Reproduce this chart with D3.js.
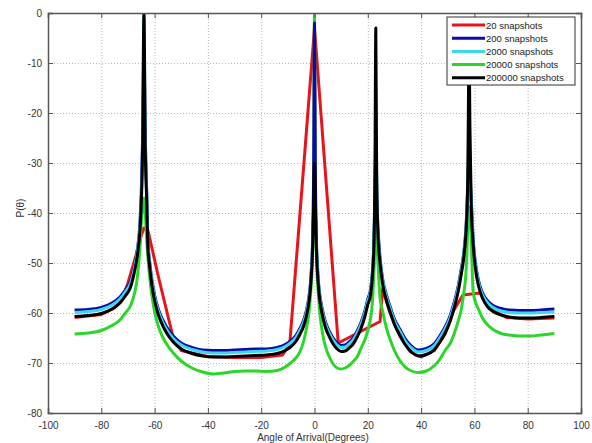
<!DOCTYPE html>
<html><head><meta charset="utf-8">
<script src="https://cdnjs.cloudflare.com/ajax/libs/d3/7.8.5/d3.min.js"></script>
<style>
html,body{margin:0;padding:0;background:#fff;}
svg{display:block;font-family:"Liberation Sans",Arial,Helvetica,sans-serif;}
</style></head>
<body><svg id="c" width="592" height="443"></svg>
<script>
// ---------- data ----------
const seriesNames = ["20 snapshots","200 snapshots","2000 snapshots","20000 snapshots","200000 snapshots"];
const xTicks = [-100,-80,-60,-40,-20,0,20,40,60,80,100];
const yTicks = [0,-10,-20,-30,-40,-50,-60,-70,-80];

const angles = [
 -90,-85,-80,-76,-73,-71,-69,-67.5,-66.5,-65.5,
 -65,-64.5,-64,-63.5,-63,-62.5,-62,-61,-60,-58.5,
 -57,-55.5,-53,-50,-46,-42,-38,-34,-30,-26,
 -22,-18,-14,-11,-9,-7,-5.5,-4,-3,-2,
 -1.3,-0.7,-0.3,0,0.3,0.7,1.3,2,3,4,
 5.5,7,8.5,10,11.5,13,14.5,16,17.5,19,
 20,21,21.7,22.2,22.5,22.7,23,23.3,23.8,24.6,
 25.5,27,28.5,30,32,34,36,39,42,45,
 47,49,51,52.5,54,55,56,56.7,57.2,57.5,
 57.7,58,58.3,58.8,59.5,60.5,61.5,63,65,67,
 70,73,77,81,85,90];

const p200000 = [
 -60.7,-60.5,-60.1,-59.2,-58,-56.6,-54.8,-51.6,-48.6,-43.5,
 -38,-27,0,-27,-37,-47,-50,-54.5,-57.5,-60.5,
 -62.5,-64,-65.8,-67.2,-68.1,-68.6,-68.8,-68.8,-68.7,-68.6,
 -68.5,-68.4,-68.1,-67.5,-66.8,-65.7,-64.3,-62.5,-60.5,-57.5,
 -53.5,-47,-38,-30,-38,-47,-53.5,-57.5,-60.5,-62.7,
 -64.7,-66.2,-67.2,-67.7,-67.6,-67,-66.2,-64.8,-63,-60.5,
 -58.3,-56.5,-53,-48,-41,-30,-3,-30,-44,-50,
 -54,-57.5,-60,-62.3,-64.4,-66.3,-67.6,-68.6,-68.3,-67.3,
 -65.8,-64,-61.5,-58.8,-55.5,-52.5,-49,-45,-40,-33,
 -22,-5,-22,-38,-46,-51.5,-54.5,-57,-58.8,-59.7,
 -60.4,-60.8,-61,-61,-60.9,-60.7];

const p2000 = [
 -59.9,-59.7,-59.3,-58.4,-57.2,-55.8,-54,-50.8,-47.8,-42.5,
 -37.5,-26,-1,-26,-36,-46.3,-49.3,-53.8,-56.8,-59.8,
 -61.8,-63.3,-65.1,-66.4,-67.3,-67.8,-68,-68,-67.9,-67.8,
 -67.7,-67.6,-67.3,-66.7,-66,-64.9,-63.5,-61.7,-59.8,-56.8,
 -52.8,-46.5,-41,-38,-41,-46.5,-52.8,-56.8,-59.8,-62,
 -64,-65.4,-66.4,-66.9,-66.8,-66.2,-65.4,-64,-62.2,-59.8,
 -57.6,-55.8,-52.3,-47.3,-40,-32,-27,-32,-43.5,-49.3,
 -53.3,-56.8,-59.3,-61.6,-63.6,-65.6,-66.8,-67.8,-67.5,-66.5,
 -65,-63.2,-60.8,-58.1,-54.8,-51.8,-48.3,-44.3,-39.3,-33,
 -30,-30,-31,-37.5,-45.3,-50.8,-53.8,-56.3,-58,-58.9,
 -59.6,-59.9,-60,-60,-59.9,-59.8];

const p200 = [
 -59.4,-59.3,-58.9,-58,-56.8,-55.4,-53.6,-50.4,-47.4,-42,
 -36,-25,-8,-25,-35,-46,-49,-53.4,-56.4,-59.4,
 -61.3,-62.8,-64.6,-66,-66.9,-67.4,-67.5,-67.5,-67.4,-67.3,
 -67.2,-67.2,-66.9,-66.3,-65.6,-64.5,-63.1,-61.3,-59.4,-56.4,
 -52.4,-45,-30,-2,-30,-45,-52.4,-56.4,-59.4,-61.6,
 -63.6,-65,-66,-66.5,-66.4,-65.8,-65,-63.6,-61.8,-59.4,
 -57.2,-55.4,-51.9,-47,-41,-37,-36,-38,-43,-49,
 -53,-56.4,-58.9,-61.2,-63.2,-65.1,-66.4,-67.4,-67.1,-66.1,
 -64.6,-62.8,-60.4,-57.7,-54.4,-51.4,-48,-44,-39,-35,
 -33,-32,-33,-37,-45,-50.4,-53.4,-55.9,-57.6,-58.5,
 -59.1,-59.4,-59.5,-59.5,-59.4,-59.2];

const p20000 = [
 -64.2,-64,-63.5,-62.5,-61.4,-60,-58.5,-56,-53,-47,
 -42,-39,-37,-40,-45,-49,-52,-56.5,-59.8,-62.8,
 -64.8,-66.2,-68,-69.6,-71,-71.8,-72.2,-72,-71.7,-71.6,
 -71.6,-71.7,-71.5,-70.8,-70,-69,-67.8,-65.5,-63,-59.5,
 -55,-48,-35,0,-35,-48,-55,-60,-64,-66.5,
 -68.7,-70.2,-71,-71.2,-71,-70.5,-69.7,-68.8,-67,-65.2,
 -63.5,-61.2,-58,-53,-49,-45,-42,-45,-50,-57,
 -59.5,-63,-65.5,-67.5,-69.5,-70.8,-71.5,-71.9,-71.6,-70.5,
 -69.3,-67.5,-66,-64,-61.5,-59.5,-56,-53,-48,-43,
 -40,-38.7,-40,-45,-55.5,-58,-59.2,-61,-62.4,-63.3,
 -64.1,-64.4,-64.6,-64.6,-64.4,-64.1];

const anglesRed = [-90,-80,-75,-72,-70,-67,-65,-64,-62.4,-58.6,-55.5,-53,-50,-40,-30,-20,-12,-9.3,0,8.9,24.6,25.6,27,28.5,32,36,40,45,49,52,55.7,62.1,64,67,72,80,90];
const p20 = [-60.9,-60.3,-59,-57,-54,-48.5,-44.5,-43,-43.7,-52.7,-59.5,-65,-67.5,-68.7,-68.9,-68.9,-68.4,-66.3,-3,-66,-61.7,-55,-57.7,-60.2,-64.6,-67.8,-68.8,-67.5,-64.2,-59.7,-56.4,-56,-57.3,-59.4,-60.9,-61.2,-61];

const colors = ["#e8141c","#0b0ba8","#3cd8f2","#2bd62b","#000000"];

// ---------- chart ----------
const svg = d3.select("#c");
const L=48,R=581,T=13,B=413;
const x = d3.scaleLinear().domain([-100,100]).range([L,R]);
const y = d3.scaleLinear().domain([-80,0]).range([B,T]);

svg.append("rect").attr("x",0).attr("y",0).attr("width",592).attr("height",443).attr("fill","#fff");

// grid
const gridG = svg.append("g");
gridG.append("g").attr("transform",`translate(0,${B})`)
  .call(d3.axisBottom(x).tickValues(xTicks.slice(1,-1)).tickSize(-(B-T)).tickFormat(""))
  .call(g=>{g.select(".domain").remove();g.selectAll("line").attr("stroke","#b8b8b8").attr("stroke-dasharray","1,2");});
gridG.append("g").attr("transform",`translate(${L},0)`)
  .call(d3.axisLeft(y).tickValues(yTicks.slice(1,-1)).tickSize(-(R-L)).tickFormat(""))
  .call(g=>{g.select(".domain").remove();g.selectAll("line").attr("stroke","#b8b8b8").attr("stroke-dasharray","1,2");});

// clip
svg.append("clipPath").attr("id","clip").append("rect").attr("x",L).attr("y",T).attr("width",R-L).attr("height",B-T);

const smooth = d3.line().x(d=>x(d[0])).y(d=>y(d[1])).curve(d3.curveMonotoneX);
const straight = d3.line().x(d=>x(d[0])).y(d=>y(d[1]));
const plotG = svg.append("g").attr("clip-path","url(#clip)");
const seriesData = [
  {c:colors[0], pts:d3.zip(anglesRed,p20), gen:straight},
  {c:colors[3], pts:d3.zip(angles,p20000), gen:smooth},
  {c:colors[1], pts:d3.zip(angles,p200), gen:smooth},
  {c:colors[2], pts:d3.zip(angles,p2000), gen:smooth},
  {c:colors[4], pts:d3.zip(angles,p200000), gen:smooth}
];
seriesData.forEach(s=>{
  plotG.append("path").attr("d",s.gen(s.pts)).attr("fill","none")
    .attr("stroke",s.c).attr("stroke-width",3).attr("stroke-linejoin","round");
});

// axes
const axCol="#555";
const xa = svg.append("g").attr("transform",`translate(0,${B})`)
  .call(d3.axisBottom(x).tickValues(xTicks).tickSize(-5).tickPadding(9).tickFormat(d=>d));
const ya = svg.append("g").attr("transform",`translate(${L},0)`)
  .call(d3.axisLeft(y).tickValues(yTicks).tickSize(-5).tickPadding(5).tickFormat(d=>d));
const xt = svg.append("g").attr("transform",`translate(0,${T})`)
  .call(d3.axisTop(x).tickValues(xTicks).tickSize(-5).tickFormat(""));
const yr = svg.append("g").attr("transform",`translate(${R},0)`)
  .call(d3.axisRight(y).tickValues(yTicks).tickSize(-5).tickFormat(""));
[xa,ya,xt,yr].forEach(g=>{
  g.select(".domain").attr("stroke",axCol).attr("stroke-width",1.5);
  g.selectAll(".tick line").attr("stroke",axCol);
  g.selectAll(".tick text").attr("fill","#333").style("font-size","10px").style("font-family","'Liberation Sans',Arial,sans-serif");
});
ya.selectAll(".tick text").attr("dx","-1");

svg.append("text").attr("x",313).attr("y",441).attr("text-anchor","middle")
  .style("font-size","10px").attr("fill","#333").text("Angle of Arrival(Degrees)");
svg.append("text").attr("transform","translate(24,208) rotate(-90)").attr("text-anchor","middle")
  .style("font-size","10px").attr("fill","#333").text("P(θ)");

// legend
const lg = svg.append("g");
lg.append("rect").attr("x",447).attr("y",17).attr("width",128).attr("height",68)
  .attr("fill","#fff").attr("stroke","#333").attr("stroke-width",1);
seriesNames.forEach((n,i)=>{
  const yy = 25 + i*13.2;
  lg.append("line").attr("x1",452).attr("x2",485).attr("y1",yy).attr("y2",yy)
    .attr("stroke",colors[i]).attr("stroke-width",3);
  lg.append("text").attr("x",486).attr("y",yy+3.5).style("font-size","9.5px").attr("fill","#222").text(n);
});
</script>
</body></html>
